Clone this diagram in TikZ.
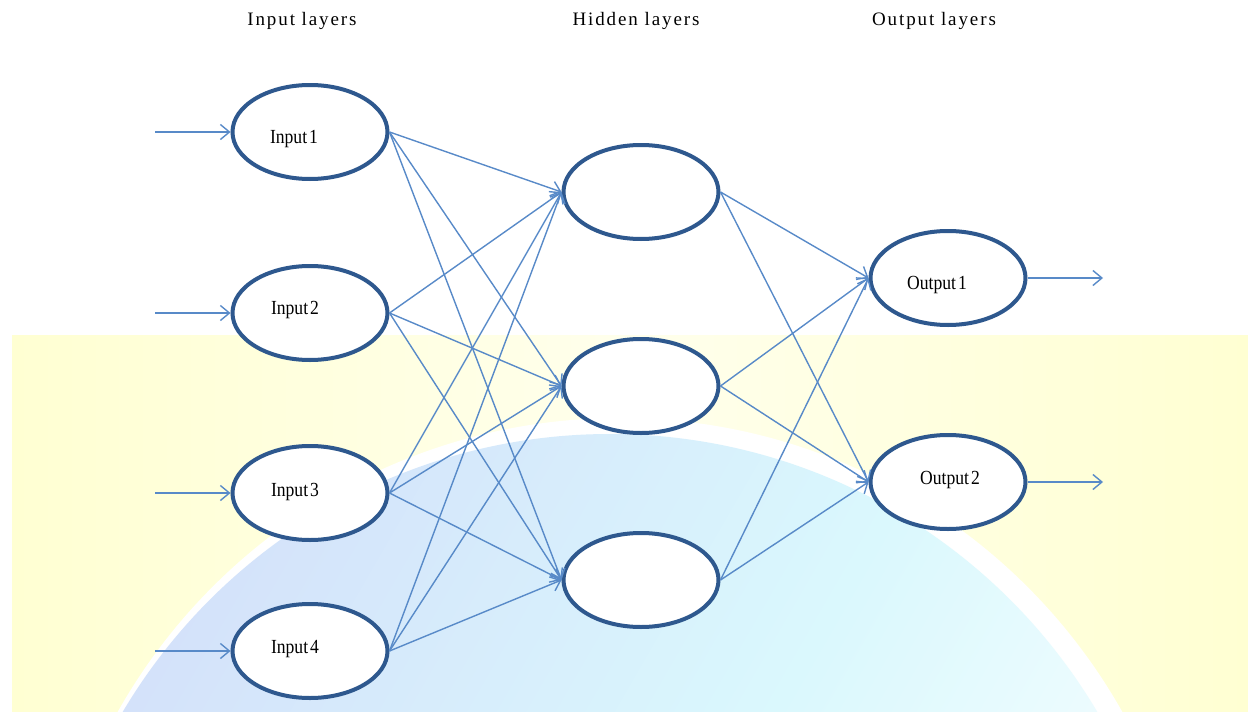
\documentclass[tikz,border=0pt]{standalone}
\usepackage{fontspec}
\setmainfont{Liberation Serif}
\newfontfamily\lblfont[FakeStretch=0.88]{Liberation Serif}
\newfontfamily\hdrfont[LetterSpace=10]{Liberation Serif}
\usetikzlibrary{arrows.meta,shapes.geometric}
\definecolor{nodeblue}{RGB}{46,88,142}
\definecolor{linkblue}{RGB}{88,138,200}
\definecolor{bgyellow}{RGB}{255,255,210}
\definecolor{bgpale}{RGB}{255,255,236}
\definecolor{globecyan}{RGB}{218,248,253}
\definecolor{globelav}{RGB}{212,226,250}
\begin{document}
\begin{tikzpicture}[x=1pt,y=-1pt,
  neuron/.style={ellipse, draw=nodeblue, line width=4pt, fill=white,
    minimum width=155pt, minimum height=94pt, inner sep=0pt},
  link/.style={draw=linkblue, line width=1.4pt,
    -{Straight Barb[length=9pt,width=15pt,line width=1.4pt]}},
  lbl/.style={font=\lblfont\fontsize{20}{22}\selectfont, anchor=base, inner sep=0pt},
  hdr/.style={font=\hdrfont\fontsize{19}{22}\selectfont, anchor=base, inner sep=0pt}]
\useasboundingbox (0,0) rectangle (1248,712);
% background watermark
\begin{scope}
  \clip (12,335) rectangle (1248,712);
  \shade[left color=bgyellow, right color=bgyellow, middle color=bgpale] (12,335) rectangle (1248,712);
  \fill[white] (620,994) circle (576);
  \shade[left color=globelav, right color=white, middle color=globecyan, shading angle=60] (610,1000) circle (566);
\end{scope}
% headers
\node[hdr] (h1) at (302,25) {Input layers};
\node[hdr] (h2) at (636,25) {Hidden layers};
\node[hdr] (h3) at (934,25) {Output layers};
% neurons
\node[neuron] (i1) at (310,132) {};
\node[neuron] (i2) at (310,313) {};
\node[neuron] (i3) at (310,493) {};
\node[neuron] (i4) at (310,651) {};
\node[neuron] (n1) at (641,192) {};
\node[neuron] (n2) at (641,386) {};
\node[neuron] (n3) at (641,580) {};
\node[neuron] (o1) at (948,278) {};
\node[neuron] (o2) at (948,482) {};
% labels
\node[lbl] (ti1) at (294,143) {Input\hspace{2pt}1};
\node[lbl] (ti2) at (295,314) {Input\hspace{2pt}2};
\node[lbl] (ti3) at (295,496) {Input\hspace{2pt}3};
\node[lbl] (ti4) at (295,653) {Input\hspace{2pt}4};
\node[lbl] (to1) at (937,289) {Output\hspace{2pt}1};
\node[lbl] (to2) at (950,484) {Output\hspace{2pt}2};
% input arrows
\coordinate (s1) at (155,132);
\coordinate (s2) at (155,313);
\coordinate (s3) at (155,493);
\coordinate (s4) at (155,651);
\foreach \k in {1,2,3,4} \draw[link] (s\k) -- (i\k.west);
% output arrows
\coordinate (e1) at (1103,278);
\coordinate (e2) at (1103,482);
\foreach \k in {1,2} \draw[link] (o\k.east) -- (e\k);
% connections
\foreach \a in {1,2,3,4} \foreach \b in {1,2,3} \draw[link] (i\a.east) -- (n\b.west);
\foreach \a in {1,2,3} \foreach \b in {1,2} \draw[link] (n\a.east) -- (o\b.west);
\end{tikzpicture}
\end{document}
